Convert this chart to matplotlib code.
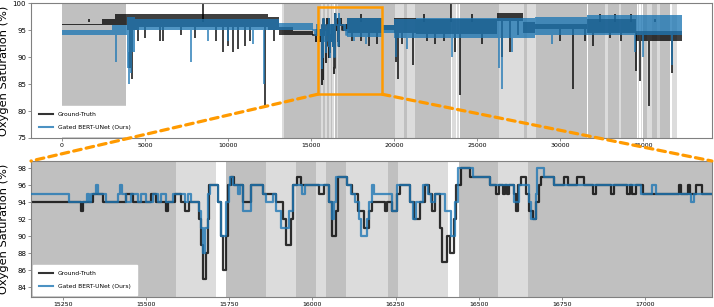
import numpy as np
import matplotlib
matplotlib.use("Agg")
import matplotlib.pyplot as plt
from matplotlib.patches import Rectangle, ConnectionPatch

# --- shaded periods (start, end, kind) : D = dark grey, L = light grey ---
span_start = [0, 13250, 13400, 15588, 15740, 15860, 15950, 16010, 16040, 16100, 16228, 16256,
              16440, 16558, 16650, 20060, 20620, 20760, 21270, 23490, 23640, 23780, 23950,
              26330, 27830, 28000, 28530, 31660, 32710, 32910, 33570, 33670, 34680, 34880,
              35020, 35220, 35520, 35820, 36020, 36730, 36830]
span_end = [3880, 13400, 15588, 15710, 15860, 15950, 16010, 16040, 16100, 16228, 16256, 16408,
            16558, 16650, 20060, 20620, 20760, 21270, 23450, 23590, 23740, 23900, 26330,
            27830, 28000, 28530, 31600, 32710, 32910, 33570, 33670, 34620, 34780, 34940,
            35220, 35520, 35820, 36020, 36630, 36790, 37030]
span_kind = ["D", "L", "D", "L", "D", "L", "D", "L", "D", "L", "D", "L",
             "D", "L", "D", "L", "D", "L", "D", "L", "L", "L", "D",
             "L", "D", "L", "D", "D", "L", "D", "L", "D", "L", "L",
             "D", "L", "D", "L", "D", "L", "L"]

# --- zoomed window: step change points ---
zoom_gt_x = [15150, 15303, 15311, 15340, 15370, 15440, 15460, 15515, 15530, 15558, 15565, 15585,
             15605, 15615, 15628, 15658, 15665, 15672, 15680, 15685, 15690, 15715, 15725, 15732,
             15740, 15746, 15755, 15765, 15790, 15815, 15850, 15890, 15910, 15920, 15935, 15942,
             15955, 15965, 16020, 16035, 16050, 16058, 16070, 16078, 16105, 16120, 16138, 16156,
             16170, 16178, 16218, 16225, 16238, 16253, 16263, 16293, 16306, 16323, 16338, 16350,
             16360, 16368, 16383, 16390, 16406, 16414, 16426, 16433, 16446, 16473, 16533, 16553,
             16560, 16573, 16580, 16586, 16592, 16608, 16613, 16620, 16628, 16643, 16653, 16663,
             16673, 16683, 16688, 16728, 16758, 16768, 16796, 16816, 16843, 16853, 16898, 16908,
             16948, 16956, 16963, 16973, 16996, 17103, 17110, 17131, 17136, 17153, 17173, 17210]
zoom_gt_y = [94, 93, 94, 95, 94, 95, 94, 95, 94, 93, 94, 95,
             94, 93, 94, 92, 89, 85, 88, 92, 96, 94, 90, 86,
             90, 96, 97, 96, 94, 96, 95, 94, 92, 89, 92, 96,
             97, 96, 95, 96, 94, 90, 93, 97, 96, 95, 93, 91,
             93, 94, 93, 94, 93, 95, 96, 94, 92, 94, 96, 95,
             93, 95, 91, 87, 90, 88, 92, 96, 98, 97, 96, 95,
             96, 95, 96, 95, 96, 95, 93, 96, 97, 95, 93, 92,
             94, 96, 97, 96, 97, 96, 97, 96, 95, 96, 95, 96,
             95, 96, 95, 96, 95, 96, 95, 96, 95, 96, 95, 95]

zoom_pr_x = [15150, 15268, 15322, 15328, 15335, 15350, 15356, 15380, 15415, 15422, 15428, 15440,
             15455, 15475, 15485, 15500, 15520, 15535, 15545, 15560, 15580, 15615, 15625, 15635,
             15658, 15665, 15672, 15678, 15685, 15692, 15715, 15725, 15740, 15748, 15752, 15762,
             15775, 15782, 15792, 15815, 15850, 15860, 15880, 15890, 15905, 15930, 15940, 15970,
             15978, 16050, 16058, 16065, 16072, 16105, 16115, 16128, 16140, 16145, 16163, 16170,
             16178, 16186, 16238, 16253, 16293, 16303, 16313, 16333, 16348, 16356, 16368, 16398,
             16418, 16428, 16438, 16483, 16533, 16608, 16623, 16653, 16658, 16673, 16676, 16698,
             16728, 16988, 17023, 17033, 17138, 17148, 17210]
zoom_pr_y = [95, 94, 95, 94, 95, 96, 95, 94, 95, 96, 95, 94,
             95, 94, 95, 94, 95, 94, 95, 94, 95, 94, 95, 94,
             93, 91, 88, 91, 95, 96, 94, 90, 94, 96, 97, 96,
             95, 96, 93, 96, 95, 94, 95, 93, 91, 93, 96, 95,
             96, 94, 92, 94, 97, 96, 95, 94, 92, 90, 92, 94,
             96, 95, 93, 96, 94, 92, 94, 96, 95, 94, 95, 93,
             90, 94, 98, 97, 96, 94, 96, 94, 92, 95, 98, 97,
             96, 95, 96, 95, 94, 95, 95]

# --- full night overview: dense bands (x0, x1, low, high) plus isolated spikes ---
gt_band_x0 = [0, 2400, 3200, 3900, 4500, 12400, 13100, 13900, 17200, 19300, 20000, 21300, 23400,
              26200, 27800, 28500, 31600, 34600]
gt_band_x1 = [2400, 3200, 3900, 4500, 12400, 13100, 13900, 15150, 19300, 20000, 21300, 23400, 26200,
              27800, 28500, 31600, 34600, 37350]
gt_band_lo = [95.85, 96, 96, 95, 95.5, 95, 94, 94, 94.5, 95, 94.5, 94.3, 94.3, 96.7, 94.5, 95.2, 94.5, 93]
gt_band_hi = [96.15, 97, 98, 98, 98, 97.5, 95.5, 94.8, 97.3, 96, 97.2, 97, 97, 98.2, 96.5, 96.2, 97, 94.8]

pr_band_x0 = [0, 3000, 3900, 4400, 13100, 17200, 19300, 20000, 21300, 26200, 28500, 31600, 34600]
pr_band_x1 = [3000, 3900, 4400, 13100, 15150, 19300, 20000, 21300, 26200, 28500, 31600, 34600, 37350]
pr_band_lo = [94, 94, 91, 95, 95, 93.7, 94.5, 93.5, 93.5, 93.5, 94, 94, 94]
pr_band_hi = [95, 96, 97.5, 97, 96.3, 97.3, 96, 97, 97.2, 97.3, 97.4, 97.7, 97.7]

gt_dip_x = [4100, 4250, 4600, 5000, 5900, 6100, 7200, 8000, 9300, 9700, 10000, 10300, 10600, 11000,
            11300, 12230, 12800, 17500, 18000, 18500, 19000, 20100, 20260, 20500, 21160, 22000,
            22500, 23000, 23700, 23980, 25300, 26500, 27000, 27500, 30000, 30800, 31500, 32010,
            33000, 33700, 34580, 34820, 35380, 36200, 36730]
gt_dip_lo = [88, 86, 93, 93.5, 93, 93, 94, 93.5, 93, 91, 92, 91, 91.5, 92,
             93, 81, 93, 93, 93, 92, 92.5, 89, 86, 92.5, 88.5, 93,
             92.5, 93, 91, 83, 92.5, 90, 91, 94, 93, 84, 93, 92,
             93.5, 93, 87.5, 85.5, 81, 93, 87]
gt_peak_x = [1630, 8510, 18000, 21800, 23450, 24700, 32400, 33300, 34300, 35700]
gt_peak_hi = [97, 100, 98, 98, 100, 98, 98, 98, 98, 97]

pr_dip_x = [3250, 3950, 4050, 4150, 7770, 8800, 10000, 11500, 12150, 17600, 18300, 20150, 20800,
            23500, 26300, 26500, 27100, 29500, 34500, 35000, 36730]
pr_dip_lo = [89, 88, 85, 87, 89, 93, 93, 92.5, 85, 93, 92.5, 90, 91.5,
             90, 88, 84, 91, 92.5, 91, 90, 88.5]

GT_COLOR = "black"
PR_COLOR = "#1f77b4"
DARK = "#c0c0c0"
LIGHT = "#dcdcdc"
ORANGE = "#ff9a00"

fig = plt.figure(figsize=(7.14, 3.07), dpi=100)
ax1 = fig.add_axes([0.0434, 0.5505, 0.9536, 0.4395])
ax2 = fig.add_axes([0.0434, 0.0336, 0.9536, 0.442])


def shade(ax):
    for s, e, k in zip(span_start, span_end, span_kind):
        ax.axvspan(s, e, color=DARK if k == "D" else LIGHT, lw=0, zorder=0)


def bands(ax, x0, x1, lo, hi, color, alpha):
    ax.bar(x0, np.subtract(hi, lo), width=np.subtract(x1, x0), bottom=lo, align="edge",
           color=color, linewidth=0, alpha=alpha, zorder=2)


def band_floor(x, x0, lo):
    i = np.searchsorted(x0, x, side="right") - 1
    return np.asarray(lo)[i]


# top: whole recording
shade(ax1)
bands(ax1, gt_band_x0, gt_band_x1, gt_band_lo, gt_band_hi, GT_COLOR, 0.75)
ax1.vlines(gt_dip_x, gt_dip_lo, band_floor(gt_dip_x, gt_band_x0, gt_band_lo),
           color=GT_COLOR, lw=1.3, alpha=0.8, zorder=2)
ax1.vlines(gt_peak_x, 96.5, gt_peak_hi, color=GT_COLOR, lw=1.3, alpha=0.8, zorder=2)
ax1.plot(zoom_gt_x, zoom_gt_y, drawstyle="steps-post", color=GT_COLOR, lw=1.2, alpha=0.8, zorder=2)
bands(ax1, pr_band_x0, pr_band_x1, pr_band_lo, pr_band_hi, PR_COLOR, 0.78)
ax1.vlines(pr_dip_x, pr_dip_lo, band_floor(pr_dip_x, pr_band_x0, pr_band_lo),
           color=PR_COLOR, lw=1.3, alpha=0.8, zorder=3)
ax1.plot(zoom_pr_x, zoom_pr_y, drawstyle="steps-post", color=PR_COLOR, lw=1.2, alpha=0.8, zorder=3)
h_gt, = ax1.plot([], [], color=GT_COLOR, lw=1.5, alpha=0.8, label="Ground-Truth")
h_pr, = ax1.plot([], [], color=PR_COLOR, lw=1.5, alpha=0.8, label="Gated BERT-UNet (Ours)")
ax1.set_xlim(-1865, 39150)
ax1.set_ylim(75, 100)
ax1.set_xticks(np.arange(0, 36000, 5000))
ax1.set_yticks([75, 80, 85, 90, 95, 100])

# bottom: zoomed window
shade(ax2)
ax2.plot(zoom_gt_x, zoom_gt_y, drawstyle="steps-post", color=GT_COLOR, lw=1.6, alpha=0.8,
         zorder=2, label="Ground-Truth")
ax2.plot(zoom_pr_x, zoom_pr_y, drawstyle="steps-post", color=PR_COLOR, lw=1.6, alpha=0.8,
         zorder=3, label="Gated BERT-UNet (Ours)")
ax2.set_xlim(15153, 17202)
ax2.set_ylim(82.86, 98.86)
ax2.set_xticks(np.arange(15250, 17001, 250))
ax2.set_yticks(np.arange(84, 99, 2))

for ax in (ax1, ax2):
    ax.set_ylabel("Oxygen Saturation (%)", fontsize=8.2)
    ax.yaxis.set_label_coords(-0.032, 0.5)
    ax.tick_params(axis="x", labelsize=4.5, length=2, width=0.5, pad=1.5, color="0.4")
    ax.tick_params(axis="y", labelsize=5, length=2, width=0.5, pad=1.5, color="0.4")
    for sp in ax.spines.values():
        sp.set_color("0.5")
        sp.set_linewidth(0.8)
    leg = ax.legend(handles=[h_gt, h_pr], loc="lower left", fontsize=4.3, frameon=True,
                    fancybox=False, framealpha=1, facecolor="white", edgecolor="white",
                    labelspacing=1.3, borderpad=1.0, handlelength=2.4, handletextpad=0.8,
                    borderaxespad=0.3)
    leg.set_zorder(5)

# orange zoom box and connectors
ax1.add_patch(Rectangle((15400, 83.1), 3900, 16.2, fill=False, edgecolor=ORANGE, lw=1.8, zorder=4))
for xa, xb in ((15400, 0), (19300, 1)):
    con = ConnectionPatch(xyA=(xa, 83.1), coordsA=ax1.transData, xyB=(xb, 1), coordsB=ax2.transAxes,
                          color=ORANGE, lw=2.3, linestyle=(0, (2.4, 1.6)))
    con.set_clip_on(False)
    fig.add_artist(con)

fig.savefig("out.png", dpi=100)
